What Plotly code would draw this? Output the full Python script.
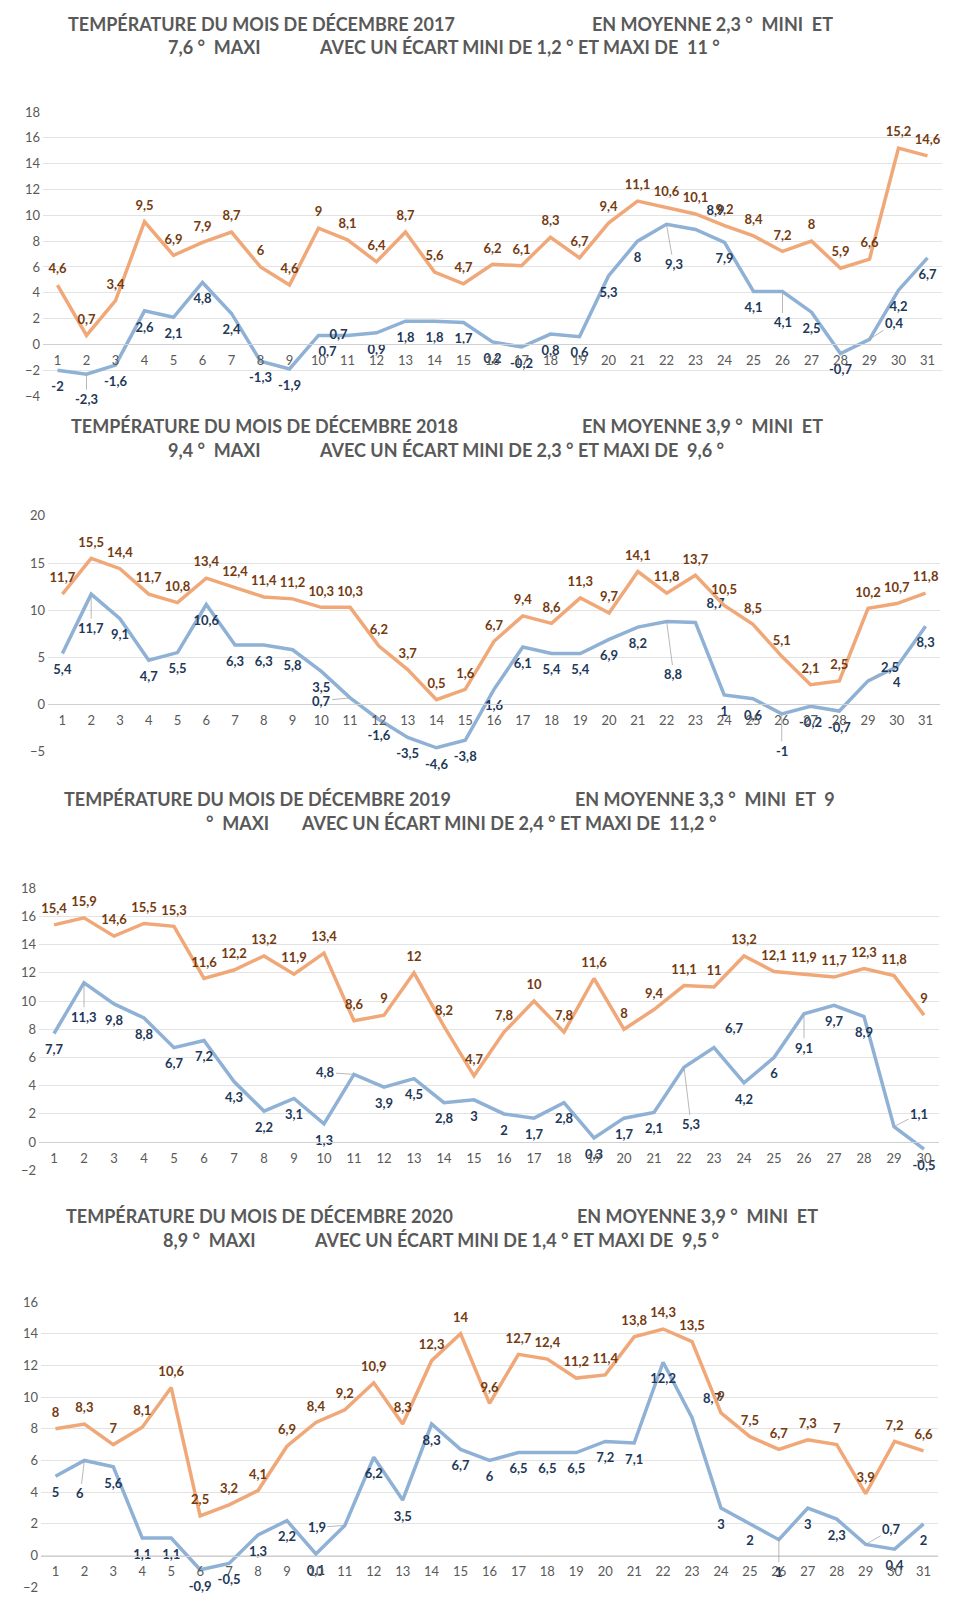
import plotly.graph_objects as go

# ---------------- data ----------------
days_2017 = list(range(1, 32))
max_2017 = [4.6, 0.7, 3.4, 9.5, 6.9, 7.9, 8.7, 6, 4.6, 9, 8.1, 6.4, 8.7, 5.6, 4.7, 6.2,
            6.1, 8.3, 6.7, 9.4, 11.1, 10.6, 10.1, 9.2, 8.4, 7.2, 8, 5.9, 6.6, 15.2, 14.6]
min_2017 = [-2, -2.3, -1.6, 2.6, 2.1, 4.8, 2.4, -1.3, -1.9, 0.7, 0.7, 0.9, 1.8, 1.8, 1.7, 0.2,
            -0.2, 0.8, 0.6, 5.3, 8, 9.3, 8.9, 7.9, 4.1, 4.1, 2.5, -0.7, 0.4, 4.2, 6.7]

days_2018 = list(range(1, 32))
max_2018 = [11.7, 15.5, 14.4, 11.7, 10.8, 13.4, 12.4, 11.4, 11.2, 10.3, 10.3, 6.2, 3.7, 0.5, 1.6, 6.7,
            9.4, 8.6, 11.3, 9.7, 14.1, 11.8, 13.7, 10.5, 8.5, 5.1, 2.1, 2.5, 10.2, 10.7, 11.8]
min_2018 = [5.4, 11.7, 9.1, 4.7, 5.5, 10.6, 6.3, 6.3, 5.8, 3.5, 0.7, -1.6, -3.5, -4.6, -3.8, 1.6,
            6.1, 5.4, 5.4, 6.9, 8.2, 8.8, 8.7, 1, 0.6, -1, -0.2, -0.7, 2.5, 4, 8.3]

days_2019 = list(range(1, 31))
max_2019 = [15.4, 15.9, 14.6, 15.5, 15.3, 11.6, 12.2, 13.2, 11.9, 13.4, 8.6, 9, 12, 8.2, 4.7,
            7.8, 10, 7.8, 11.6, 8, 9.4, 11.1, 11, 13.2, 12.1, 11.9, 11.7, 12.3, 11.8, 9]
min_2019 = [7.7, 11.3, 9.8, 8.8, 6.7, 7.2, 4.3, 2.2, 3.1, 1.3, 4.8, 3.9, 4.5, 2.8, 3,
            2, 1.7, 2.8, 0.3, 1.7, 2.1, 5.3, 6.7, 4.2, 6, 9.1, 9.7, 8.9, 1.1, -0.5]

days_2020 = list(range(1, 32))
max_2020 = [8, 8.3, 7, 8.1, 10.6, 2.5, 3.2, 4.1, 6.9, 8.4, 9.2, 10.9, 8.3, 12.3, 14, 9.6,
            12.7, 12.4, 11.2, 11.4, 13.8, 14.3, 13.5, 9, 7.5, 6.7, 7.3, 7, 3.9, 7.2, 6.6]
min_2020 = [5, 6, 5.6, 1.1, 1.1, -0.9, -0.5, 1.3, 2.2, 0.1, 1.9, 6.2, 3.5, 8.3, 6.7, 6,
            6.5, 6.5, 6.5, 7.2, 7.1, 12.2, 8.7, 3, 2, 1, 3, 2.3, 0.7, 0.4, 2]

titles_2017 = ["TEMPÉRATURE DU MOIS DE DÉCEMBRE 2017", "EN MOYENNE 2,3 °  MINI  ET",
               "7,6 °  MAXI", "AVEC UN ÉCART MINI DE 1,2 ° ET MAXI DE  11 °"]
titles_2018 = ["TEMPÉRATURE DU MOIS DE DÉCEMBRE 2018", "EN MOYENNE 3,9 °  MINI  ET",
               "9,4 °  MAXI", "AVEC UN ÉCART MINI DE 2,3 ° ET MAXI DE  9,6 °"]
titles_2019 = ["TEMPÉRATURE DU MOIS DE DÉCEMBRE 2019", "EN MOYENNE 3,3 °  MINI  ET  9",
               "°  MAXI", "AVEC UN ÉCART MINI DE 2,4 ° ET MAXI DE  11,2 °"]
titles_2020 = ["TEMPÉRATURE DU MOIS DE DÉCEMBRE 2020", "EN MOYENNE 3,9 °  MINI  ET",
               "8,9 °  MAXI", "AVEC UN ÉCART MINI DE 1,4 ° ET MAXI DE  9,5 °"]

# ---------------- style / layout ----------------
W, H = 954, 1615
FONT = "Lato"
C_MAX_LINE = "#F0A878"
C_MIN_LINE = "#8FB1D5"
C_MAX_TXT = "#743A10"
C_MIN_TXT = "#1E3858"
C_AXIS_TXT = "#595959"
C_GRID = "#E3E3E3"
C_LEADER = "#A6A6A6"
CLEAR = "rgba(0,0,0,0)"

panels = [
    dict(days=days_2017, tmax=max_2017, tmin=min_2017, titles=titles_2017,
         top=105, bot=392, left=43, right=942, yr=(-4, 18), dtick=2,
         tpos=[(66, 16), (590, 16), (166, 39), (317, 39)],
         minpos={10: "middle right", 11: "bottom left", 23: "top right"},
         leaders={2: (0, 25), 22: (7, 40), 26: (0, 31), 29: (25, -16)}),
    dict(days=days_2018, tmax=max_2018, tmin=min_2018, titles=titles_2018,
         top=513, bot=751, left=48, right=940, yr=(-5, 20), dtick=5,
         tpos=[(69, 422), (580, 422), (166, 446), (317, 446)],
         minpos={23: "top right"},
         leaders={2: (0, 34), 11: (-29, 3), 22: (7, 53), 26: (0, 37), 29: (22, -14)}),
    dict(days=days_2019, tmax=max_2019, tmin=min_2019, titles=titles_2019,
         top=889, bot=1174, left=39, right=939, yr=(-2, 18), dtick=2,
         tpos=[(62, 799), (573, 799), (204, 823), (299, 823)],
         minpos={23: "top right"},
         leaders={2: (0, 34), 11: (-29, -2), 22: (7, 57), 26: (0, 34), 29: (25, -13)}),
    dict(days=days_2020, tmax=max_2020, tmin=min_2020, titles=titles_2020,
         top=1307, bot=1595, left=41, right=938, yr=(-2, 16), dtick=2,
         tpos=[(64, 1220), (575, 1220), (161, 1244), (312, 1244)],
         minpos={23: "top right"},
         leaders={2: (-4, 33), 11: (-28, 2), 26: (0, 32), 29: (26, -15)}),
]


def fmt(v):
    return f"{v:g}".replace(".", ",")


def nb(s):
    return s.replace("  ", "\u00a0\u00a0")


fig = go.Figure()
annotations = []
layout = {}

for i, p in enumerate(panels):
    k = "" if i == 0 else str(i + 1)
    xa, ya = "x" + k, "y" + k
    n = len(p["days"])
    y0 = 1 - p["bot"] / H
    y1 = 1 - p["top"] / H
    ymin, ymax = p["yr"]
    zero_pos = y0 + (0 - ymin) / (ymax - ymin) * (y1 - y0)

    maxpos = ["top center" for d in p["days"]]
    minpos = [p["minpos"].get(d, "bottom center") for d in p["days"]]
    min_text = ["" if d in p["leaders"] else fmt(v) for d, v in zip(p["days"], p["tmin"])]

    fig.add_trace(go.Scatter(
        x=p["days"], y=p["tmin"], mode="lines+markers+text",
        text=min_text, textposition=minpos,
        textfont=dict(family=FONT, size=13, color=C_MIN_TXT, weight="bold"),
        line=dict(color=C_MIN_LINE, width=3.5),
        marker=dict(size=16, color=CLEAR, line=dict(width=0)),
        cliponaxis=False, hoverinfo="skip", showlegend=False,
        xaxis=xa, yaxis=ya))
    fig.add_trace(go.Scatter(
        x=p["days"], y=p["tmax"], mode="lines+markers+text",
        text=[fmt(v) for v in p["tmax"]], textposition=maxpos,
        textfont=dict(family=FONT, size=13, color=C_MAX_TXT, weight="bold"),
        line=dict(color=C_MAX_LINE, width=3.5),
        marker=dict(size=12, color=CLEAR, line=dict(width=0)),
        cliponaxis=False, hoverinfo="skip", showlegend=False,
        xaxis=xa, yaxis=ya))

    # labels placed away from their point with a thin leader line
    for d, (dx, dy) in p["leaders"].items():
        v = p["tmin"][p["days"].index(d)]
        annotations.append(dict(
            x=d, y=v, xref=xa, yref=ya, text="<b>" + fmt(v) + "</b>",
            showarrow=True, arrowhead=0, arrowwidth=0.8, arrowcolor=C_LEADER,
            ax=dx, ay=dy, standoff=0, borderpad=1,
            font=dict(family=FONT, size=13, color=C_MIN_TXT)))

    layout["xaxis" + k] = dict(
        domain=[p["left"] / W, p["right"] / W], range=[0.5, n + 0.5],
        tickmode="array", tickvals=p["days"], ticktext=[str(d) for d in p["days"]],
        anchor="free", position=zero_pos, showline=True, linecolor="#D0D0D0", linewidth=1,
        showgrid=False, zeroline=False, ticks="", ticklabelstandoff=4,
        tickfont=dict(family=FONT, size=13, color=C_AXIS_TXT), fixedrange=True)
    layout["yaxis" + k] = dict(
        domain=[y0, y1], range=[ymin, ymax], dtick=p["dtick"], tick0=0,
        anchor=xa, showgrid=True, gridcolor=C_GRID, gridwidth=1, zeroline=False,
        showline=False, ticks="", ticklabelstandoff=2,
        tickfont=dict(family=FONT, size=13, color=C_AXIS_TXT), fixedrange=True)

    for txt, (px, py) in zip(p["titles"], p["tpos"]):
        annotations.append(dict(
            text="<b>" + nb(txt) + "</b>", xref="paper", yref="paper",
            x=px / W, y=1 - py / H, xanchor="left", yanchor="middle",
            showarrow=False, font=dict(family=FONT, size=18, color=C_AXIS_TXT)))

fig.update_layout(
    width=W, height=H, autosize=False,
    margin=dict(l=0, r=0, t=0, b=0),
    paper_bgcolor="white", plot_bgcolor="white",
    annotations=annotations, **layout)

fig.write_html("out.html", config={"displayModeBar": False},
               post_script="document.body.style.margin='0px';")
